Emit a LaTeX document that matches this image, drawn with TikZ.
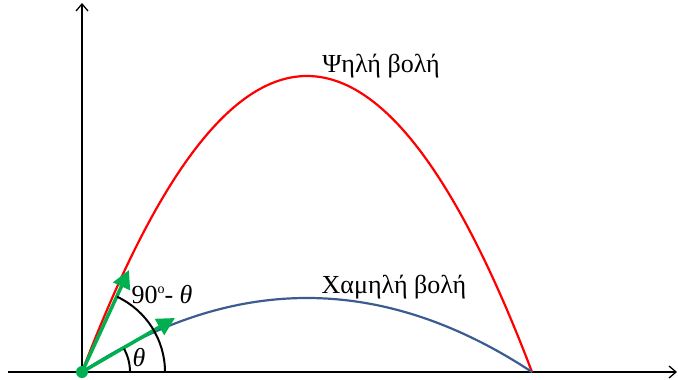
\documentclass[tikz,border=0pt]{standalone}
\usepackage{fontspec}
\setmainfont{Liberation Serif}
\usetikzlibrary{arrows.meta}
\begin{document}
\begin{tikzpicture}[x=1pt,y=-1pt,
  axis/.style={line width=1.3pt,-{Straight Barb[length=7pt,width=12pt,line width=1.3pt]}},
  traj/.style={line width=2.2pt},
  vel/.style={line width=3.5pt,draw=vgreen,-{Triangle[length=18pt,width=18pt]}},
  lbl/.style={font=\fontsize{26}{28}\selectfont,inner sep=0pt}]
\definecolor{vgreen}{RGB}{0,176,80}
\definecolor{lowblue}{RGB}{59,91,145}
\useasboundingbox (0,0) rectangle (678,380);
\coordinate (O) at (82,372);
\coordinate (xs) at (8,372);
\coordinate (xe) at (677,372);
\coordinate (ye) at (82,3);
\draw[axis] (xs) -- (xe);
\draw[axis] (O) -- (ye);
% trajectories
\draw[traj,red] plot[domain=82:532,samples=120,smooth] (\x,{372-296*(1-((\x-307)/225)^2)});
\draw[traj,lowblue] plot[domain=82:532,samples=120,smooth] (\x,{372-74*(1-((\x-307)/225)^2)});
% velocity arrows
\coordinate (v1) at (129,270);
\coordinate (v2) at (175,318);
\draw[vel] (O) -- (v1);
\draw[vel] (O) -- (v2);
% angle arcs
\draw[line width=2pt] (165,372) arc[start angle=0,end angle=-65,radius=83];
\draw[line width=2pt] (130,372) arc[start angle=0,end angle=-29,radius=48];
\fill[vgreen] (O) circle[radius=6];
% labels
\node[lbl] (hi) at (381,66) {Ψηλή βολή};
\node[lbl] (lo) at (394,287) {Χαμηλή βολή};
\node[lbl] (th) at (139,358) {\textit{θ}};
\node[lbl] (cth) at (162,295) {90\raisebox{0.85ex}{\fontsize{14}{15}\selectfont o}- \textit{θ}};
\end{tikzpicture}
\end{document}
